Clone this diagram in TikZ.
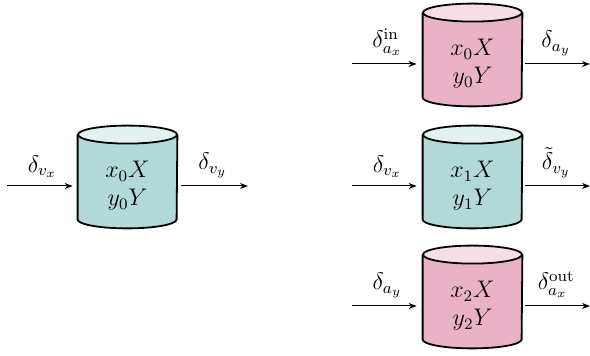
\documentclass[tikz,border=0pt]{standalone}
\usetikzlibrary{calc,backgrounds,arrows.meta}
\definecolor{tealbody}{RGB}{177,217,215}
\definecolor{tealtop}{RGB}{226,241,241}
\definecolor{pinkbody}{RGB}{234,178,198}
\definecolor{pinktop}{RGB}{246,221,230}
\newcommand\drawcyl[3]{%
  \path[cylline,fill=#2] ($(#1.north west)+(0,9)$) -- ($(#1.south west)+(0,9)$)
    arc[start angle=180,end angle=360,x radius=49.5,y radius=9]
    -- ($(#1.north east)+(0,9)$);
  \path[cylline,fill=#3] ($(#1.north)+(0,9)$) ellipse[x radius=49.5,y radius=9];
}
\tikzset{
  cylbody/.style={minimum width=49.5pt,minimum height=42pt,inner sep=0pt,align=center,
    font=\fontsize{11.5}{13}\selectfont},
  cylline/.style={draw=black,line width=0.9pt},
  flow/.style={-{Stealth[length=4pt,width=3pt]},line width=0.5pt},
  lab/.style={above=0.5pt,font=\fontsize{11.5}{13}\selectfont}
}
\begin{document}
\begin{tikzpicture}[x=0.5pt,y=0.5pt]
\useasboundingbox (0,0) rectangle (590,-356);
% nodes
\node[cylbody] (c0) at (127.5,-186) {$x_0X$\\[1pt]$y_0Y$};
\node[cylbody] (c1) at (472.5,-64) {$x_0X$\\[1pt]$y_0Y$};
\node[cylbody] (c2) at (472.5,-186) {$x_1X$\\[1pt]$y_1Y$};
\node[cylbody] (c3) at (472.5,-306) {$x_2X$\\[1pt]$y_2Y$};
\begin{scope}[on background layer]
\drawcyl{c0}{tealbody}{tealtop}
\drawcyl{c1}{pinkbody}{pinktop}
\drawcyl{c2}{tealbody}{tealtop}
\drawcyl{c3}{pinkbody}{pinktop}
\end{scope}
% free ends
\coordinate (i0) at (7,-186);
\coordinate (o0) at (248,-186);
\coordinate (i1) at (352,-64);
\coordinate (o1) at (590,-64);
\coordinate (i2) at (352,-186);
\coordinate (o2) at (590,-186);
\coordinate (i3) at (352,-306);
\coordinate (o3) at (590,-306);
% arrows
\draw[flow,shorten >=2.5pt] (i0) -- node[lab] {$\delta_{v_x}$} (c0.west);
\draw[flow,shorten <=2pt] (c0.east) -- node[lab] {$\delta_{v_y}$} (o0);
\draw[flow,shorten >=3pt] (i1) -- node[lab] {$\delta^{\mathrm{in}}_{a_x}$} (c1.west);
\draw[flow,shorten <=1.5pt] (c1.east) -- node[lab] {$\delta_{a_y}$} (o1);
\draw[flow,shorten >=3pt] (i2) -- node[lab] {$\delta_{v_x}$} (c2.west);
\draw[flow,shorten <=1.5pt] (c2.east) -- node[lab] {$\tilde{\delta}_{v_y}$} (o2);
\draw[flow,shorten >=3pt] (i3) -- node[lab] {$\delta_{a_y}$} (c3.west);
\draw[flow,shorten <=1.5pt] (c3.east) -- node[lab] {$\delta^{\mathrm{out}}_{a_x}$} (o3);
\end{tikzpicture}
\end{document}
